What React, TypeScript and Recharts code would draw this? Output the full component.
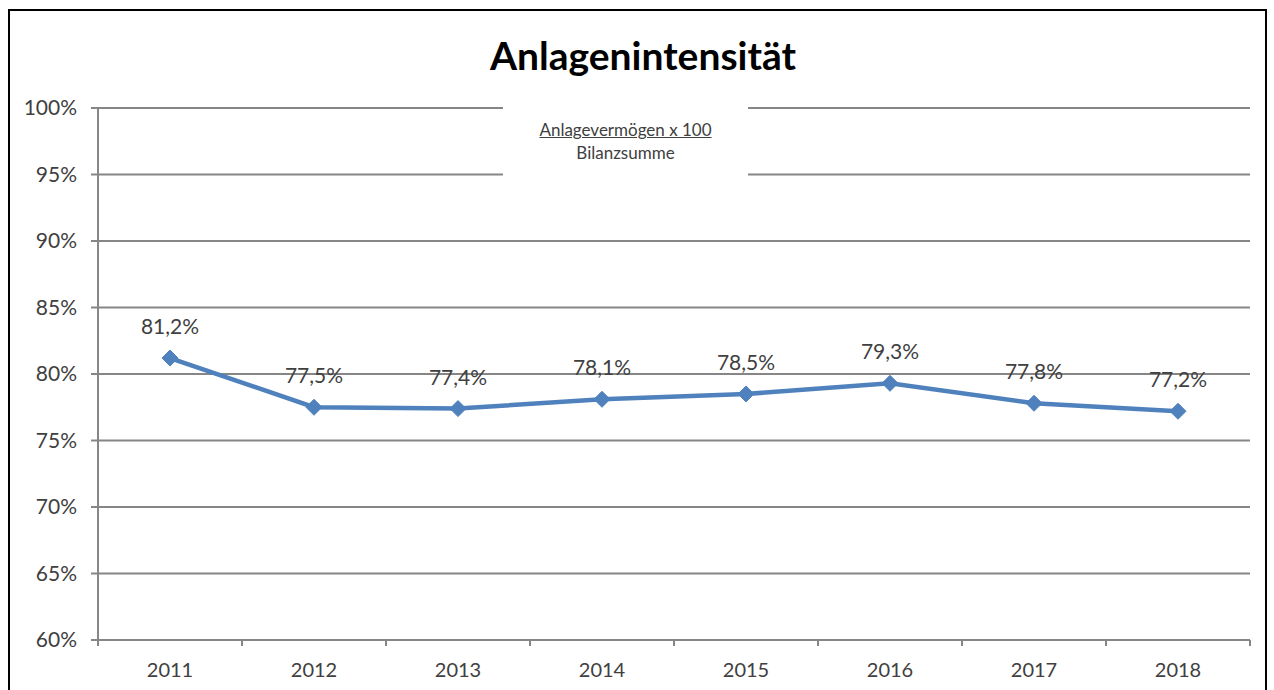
import React from 'react';
import { LineChart, Line, XAxis, YAxis, CartesianGrid, LabelList } from 'recharts';

const years = ['2011', '2012', '2013', '2014', '2015', '2016', '2017', '2018'];
const intensity = [81.2, 77.5, 77.4, 78.1, 78.5, 79.3, 77.8, 77.2];
const yTicks = [60, 65, 70, 75, 80, 85, 90, 95, 100];

const data = years.map((y, i) => ({ year: y, value: intensity[i] }));

const FONT = 'Lato, "Open Sans", sans-serif';
const AXIS = '#868686';
const TEXT = '#404040';
const BLUE = '#4F81BD';

const PLOT_W = 1152;
const BAND = PLOT_W / years.length;

const fmt = (v: number) => `${v.toFixed(1).replace('.', ',')}%`;

const Diamond = (props: any) => {
  const { cx, cy } = props;
  if (cx == null || cy == null) return null;
  const r = 8;
  return (
    <polygon
      points={`${cx},${cy - r} ${cx + r},${cy} ${cx},${cy + r} ${cx - r},${cy}`}
      fill={BLUE}
      stroke={BLUE}
    />
  );
};

const XTick = (props: any) => {
  const { x, y, payload, index } = props;
  const n = years.length;
  const axisY = y - 8;
  return (
    <g>
      <line x1={x - BAND / 2} y1={axisY} x2={x - BAND / 2} y2={axisY + 6} stroke={AXIS} strokeWidth={2} />
      {index === n - 1 && (
        <line x1={x + BAND / 2} y1={axisY} x2={x + BAND / 2} y2={axisY + 6} stroke={AXIS} strokeWidth={2} />
      )}
      <text x={x} y={axisY + 37} textAnchor="middle" fill={TEXT} fontSize={20} fontFamily={FONT}>
        {payload.value}
      </text>
    </g>
  );
};

export default function App() {
  return (
    <div style={{ position: 'absolute', left: 0, top: 0, width: 1274, height: 690, background: '#fff', overflow: 'hidden' }}>
      <div
        style={{
          position: 'absolute',
          left: 8,
          top: 9,
          width: 1259,
          height: 700,
          border: '2px solid #000',
          boxSizing: 'border-box',
        }}
      />
      <div style={{ position: 'absolute', left: 0, top: 0 }}>
        <LineChart width={1274} height={690} data={data} margin={{ top: 108, right: 24, bottom: 0, left: 0 }}>
          <CartesianGrid vertical={false} stroke={AXIS} strokeWidth={2} />
          <XAxis
            dataKey="year"
            axisLine={{ stroke: AXIS, strokeWidth: 2 }}
            tickLine={false}
            tick={<XTick />}
            height={50}
            interval={0}
            padding={{ left: BAND / 2, right: BAND / 2 }}
          />
          <YAxis
            domain={[60, 100]}
            ticks={yTicks}
            width={98}
            axisLine={{ stroke: AXIS, strokeWidth: 2 }}
            tickLine={{ stroke: AXIS, strokeWidth: 2 }}
            tickSize={7}
            tickMargin={14}
            tickFormatter={(v: number) => `${v}%`}
            tick={{ fill: TEXT, fontSize: 21, fontFamily: FONT }}
            interval={0}
          />
          <Line
            type="linear"
            dataKey="value"
            stroke={BLUE}
            strokeWidth={4.5}
            dot={<Diamond />}
            activeDot={false}
            isAnimationActive={false}
          >
            <LabelList
              dataKey="value"
              position="top"
              offset={24}
              formatter={(v: any) => fmt(Number(v))}
              fill={TEXT}
              fontSize={21}
              fontFamily={FONT}
            />
          </Line>
        </LineChart>
      </div>
      <div
        style={{
          position: 'absolute',
          left: 0,
          top: 31,
          width: 1286,
          textAlign: 'center',
          fontFamily: FONT,
          fontWeight: 700,
          fontSize: 39,
          lineHeight: '48px',
          color: '#000',
        }}
      >
        Anlagenintensität
      </div>
      <div
        style={{
          position: 'absolute',
          left: 503,
          top: 100,
          width: 245,
          height: 82,
          background: '#fff',
          textAlign: 'center',
          fontFamily: FONT,
          fontSize: 17,
          color: TEXT,
          lineHeight: '23px',
          paddingTop: 18,
          boxSizing: 'border-box',
        }}
      >
        <div style={{ textDecoration: 'underline' }}>Anlagevermögen x 100</div>
        <div>Bilanzsumme</div>
      </div>
    </div>
  );
}
